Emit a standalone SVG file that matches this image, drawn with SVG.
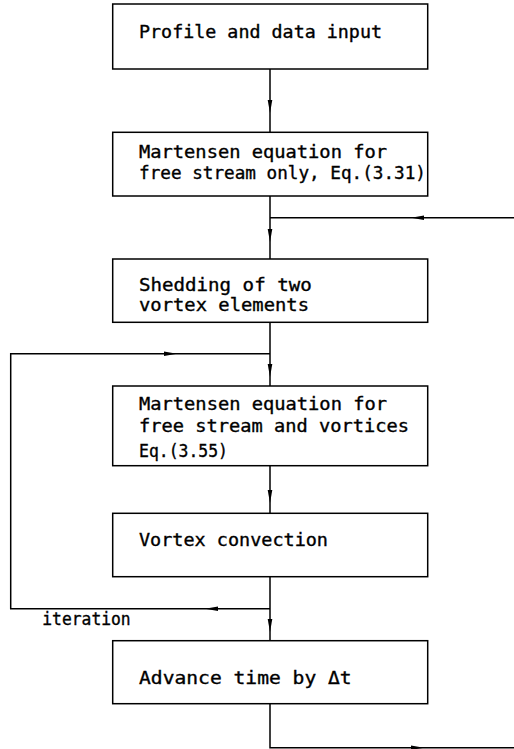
<svg xmlns="http://www.w3.org/2000/svg" width="514" height="749" viewBox="0 0 514 749">
<style>
.box{fill:#fff;stroke:#000;stroke-width:1.5}
.ln{fill:none;stroke:#000;stroke-width:1.5}
text{font-family:"DejaVu Sans Mono","Liberation Mono",monospace;font-size:17.5px;fill:#000;stroke:#000;stroke-width:0.35}
</style>
<defs>
<path id="ah" d="M0,0 L-13,-2.3 L-13,2.3 Z" fill="#000"/>
</defs>
<rect width="514" height="749" fill="#fff"/>
<g id="connectors">
<path class="ln" d="M270,69 V132.3"/>
<path class="ln" d="M270,196 V259"/>
<path class="ln" d="M514,217.7 H270"/>
<path class="ln" d="M270,322.3 V386"/>
<path class="ln" d="M270,353.7 H10.7 V608.7 H270"/>
<path class="ln" d="M270,465.7 V513.3"/>
<path class="ln" d="M270,576.7 V640.7"/>
<path class="ln" d="M270,703.7 V747.7 H514"/>
<use href="#ah" transform="translate(270,113) rotate(90)"/>
<use href="#ah" transform="translate(270,242) rotate(90)"/>
<use href="#ah" transform="translate(270,377) rotate(90)"/>
<use href="#ah" transform="translate(270,503) rotate(90)"/>
<use href="#ah" transform="translate(270,632) rotate(90)"/>
<use href="#ah" transform="translate(411,217.7) rotate(180)"/>
<use href="#ah" transform="translate(177,353.7)"/>
<use href="#ah" transform="translate(205,608.7) rotate(180)"/>
<use href="#ah" transform="translate(424,747.7)"/>
</g>
<g id="n1">
<rect class="box" x="112.7" y="4" width="315" height="65"/>
<text x="139" y="38" textLength="243" lengthAdjust="spacingAndGlyphs">Profile and data input</text>
</g>
<g id="n2">
<rect class="box" x="112.7" y="132.3" width="315" height="63.7"/>
<text x="139" y="158.3" textLength="248" lengthAdjust="spacingAndGlyphs">Martensen equation for</text>
<text x="139" y="179.3" textLength="287" lengthAdjust="spacingAndGlyphs">free stream only, Eq.(3.31)</text>
</g>
<g id="n3">
<rect class="box" x="112.7" y="259" width="315" height="63.3"/>
<text x="139" y="290.7" textLength="172.7" lengthAdjust="spacingAndGlyphs">Shedding of two</text>
<text x="139" y="311.3" textLength="170" lengthAdjust="spacingAndGlyphs">vortex elements</text>
</g>
<g id="n4">
<rect class="box" x="112.7" y="386" width="315" height="79.7"/>
<text x="139" y="410" textLength="248" lengthAdjust="spacingAndGlyphs">Martensen equation for</text>
<text x="139" y="431.7" textLength="270" lengthAdjust="spacingAndGlyphs">free stream and vortices</text>
<text x="139" y="456.7" textLength="89" lengthAdjust="spacingAndGlyphs">Eq.(3.55)</text>
</g>
<g id="n5">
<rect class="box" x="112.7" y="513.3" width="315" height="63.4"/>
<text x="139" y="545.7" textLength="189" lengthAdjust="spacingAndGlyphs">Vortex convection</text>
</g>
<g id="n6">
<rect class="box" x="112.7" y="640.7" width="315" height="63"/>
<text x="139" y="684" textLength="212.7" lengthAdjust="spacingAndGlyphs">Advance time by Δt</text>
</g>
<g id="label-iteration">
<text x="42.3" y="625" textLength="88.4" lengthAdjust="spacingAndGlyphs">iteration</text>
</g>
</svg>
